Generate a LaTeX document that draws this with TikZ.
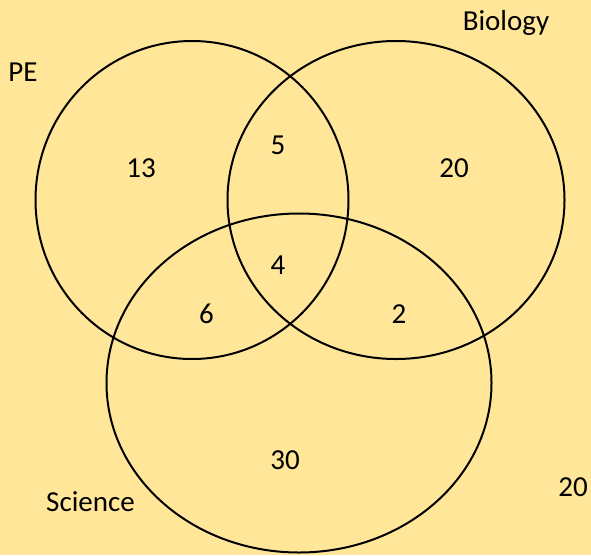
\documentclass[tikz,border=0pt]{standalone}
\usepackage{fontspec}
\setmainfont{Carlito}
\usetikzlibrary{shapes.geometric}
\definecolor{bg}{HTML}{FFE699}
\tikzset{
  setshape/.style={draw=black, line width=2pt, ellipse, inner sep=0pt},
  lbl/.style={font=\fontsize{29}{34}\selectfont, inner sep=0pt, text=black}
}
\begin{document}
\begin{tikzpicture}[x=1pt,y=-1pt]
\fill[bg] (0,0) rectangle (591,555);
\useasboundingbox (0,0) rectangle (591,555);
\node[setshape, minimum width=313pt, minimum height=318pt] (pe) at (192,200) {};
\node[setshape, minimum width=337pt, minimum height=318pt] (bio) at (396,200) {};
\node[setshape, minimum width=385pt, minimum height=339pt] (sci) at (299,383) {};
\node[lbl] (lpe) at (23,72) {PE};
\node[lbl] (lbio) at (506,23) {Biology};
\node[lbl] (lsci) at (90.5,502) {Science};
\node[lbl] (n13) at (141,168) {13};
\node[lbl] (n5) at (278,145) {5};
\node[lbl] (n20b) at (454,168) {20};
\node[lbl] (n4) at (278,265) {4};
\node[lbl] (n6) at (206.5,314) {6};
\node[lbl] (n2) at (399,314) {2};
\node[lbl] (n30) at (285,460) {30};
\node[lbl] (n20o) at (573,487) {20};
\end{tikzpicture}
\end{document}
